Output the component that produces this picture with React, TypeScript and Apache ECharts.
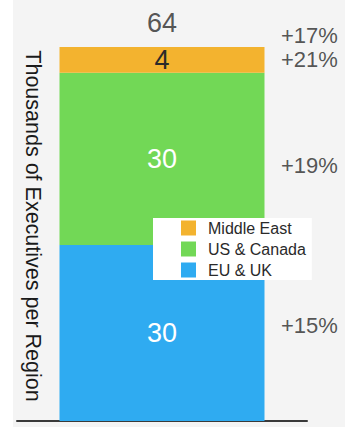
import React, { useEffect, useRef } from "react";
import * as echarts from "echarts";

const categories = ["Executives"];
const seriesNames = ["EU & UK", "US & Canada", "Middle East"];
const seriesValues = [30.1, 29.5, 4.4];
const growthLabels = ["+15%", "+19%", "+21%"];
const totalGrowthLabel = "+17%";
const yMax = 64;

const colors = ["#2FABF1", "#72D856", "#F3B32F"];
const insideLabelColors = ["#ffffff", "#ffffff", "#2a2a2a"];
const growthOffsets = [-8, 7, 0];
const FONT = "'Liberation Sans', Arial, Helvetica, sans-serif";

export default function App() {
  const ref = useRef<HTMLDivElement>(null);
  useEffect(() => {
    document.body.style.margin = "0";
    if (!ref.current) return;
    const chart = echarts.init(ref.current, null, { renderer: "svg" });

    const total = seriesValues.reduce((a, b) => a + b, 0);
    let cum = 0;
    const mids = seriesValues.map((v) => {
      const m = cum + v / 2;
      cum += v;
      return m;
    });

    const barSeries = seriesNames.map((name, i) => ({
      name,
      type: "bar",
      stack: "total",
      barWidth: 205,
      data: [seriesValues[i]],
      itemStyle: { color: colors[i] },
      label: {
        show: true,
        position: "inside",
        color: insideLabelColors[i],
        fontSize: 27,
        fontFamily: FONT,
        formatter: (p: any) => String(Math.round(p.value)),
      },
      z: 2,
    }));

    const growthData = mids.map((m, i) => ({
      value: [0, m],
      label: { offset: [119, growthOffsets[i]], formatter: growthLabels[i] },
    }));
    growthData.push({
      value: [0, total],
      label: { offset: [119, -12], formatter: totalGrowthLabel },
    });

    const option: any = {
      animation: false,
      backgroundColor: "#f4f4f4",
      textStyle: { fontFamily: FONT },
      grid: { left: 4, right: 38, top: 47, bottom: 6, containLabel: false },
      xAxis: {
        type: "category",
        data: categories,
        axisLine: { show: true, lineStyle: { color: "#3a3a3a", width: 2 } },
        axisTick: { show: false },
        axisLabel: { show: false },
        splitLine: { show: false },
      },
      yAxis: {
        type: "value",
        min: 0,
        max: yMax,
        show: false,
      },
      legend: {
        orient: "vertical",
        left: 140,
        top: 218,
        backgroundColor: "#ffffff",
        padding: [2, 6, 2, 28],
        itemWidth: 15,
        itemHeight: 15,
        itemGap: 5,
        icon: "rect",
        data: ["Middle East", "US & Canada", "EU & UK"],
        textStyle: {
          fontSize: 16,
          color: "#2a2a2a",
          fontFamily: FONT,
          padding: [0, 0, 0, 7],
        },
        selectedMode: false,
      },
      graphic: [
        {
          type: "text",
          x: 20,
          y: 226,
          rotation: -Math.PI / 2,
          style: {
            text: "Thousands of Executives per Region",
            fontSize: 21.5,
            fontFamily: FONT,
            fill: "#1a1a1a",
            textAlign: "center",
            textVerticalAlign: "middle",
          },
        },
      ],
      series: [
        ...barSeries,
        {
          type: "scatter",
          symbolSize: 1,
          itemStyle: { color: "rgba(0,0,0,0)" },
          data: growthData,
          label: {
            show: true,
            position: "inside",
            align: "left",
            verticalAlign: "middle",
            fontSize: 22,
            color: "#2a2a2a",
            fontFamily: FONT,
          },
          z: 3,
        },
        {
          type: "scatter",
          symbolSize: 1,
          itemStyle: { color: "rgba(0,0,0,0)" },
          data: [[0, total]],
          label: {
            show: true,
            position: "inside",
            offset: [0, -24],
            fontSize: 27,
            color: "#2a2a2a",
            fontFamily: FONT,
            formatter: () => String(Math.round(total)),
          },
          z: 3,
        },
      ],
    };
    chart.setOption(option);
    return () => chart.dispose();
  }, []);

  return (
    <div style={{ position: "fixed", left: 0, top: 0, width: 345, height: 427, background: "#ffffff" }}>
      <div ref={ref} style={{ position: "absolute", left: 13, top: 0, width: 332, height: 427 }} />
    </div>
  );
}
